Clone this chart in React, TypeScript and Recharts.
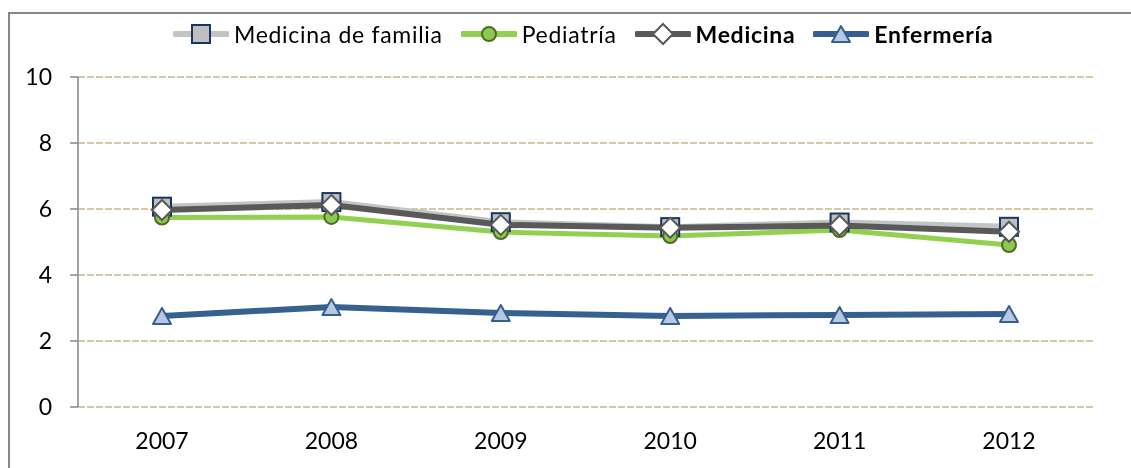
import { CartesianGrid, Line, LineChart, XAxis, YAxis } from 'recharts'

const years = ['2007', '2008', '2009', '2010', '2011', '2012']
const medicinaFamilia = [6.07, 6.21, 5.6, 5.45, 5.59, 5.46]
const pediatria = [5.74, 5.76, 5.3, 5.18, 5.36, 4.91]
const medicina = [5.97, 6.12, 5.52, 5.43, 5.5, 5.31]
const enfermeria = [2.76, 3.03, 2.85, 2.76, 2.79, 2.82]
const yTicks = [0, 2, 4, 6, 8, 10]

const data = years.map((year, i) => ({
  year,
  familia: medicinaFamilia[i],
  pediatria: pediatria[i],
  medicina: medicina[i],
  enfermeria: enfermeria[i],
}))

// band edges for the x tick marks (Excel puts them between categories)
const edgeTicks = [...years.map((_, i) => i), years.length]

const FONT = 'Lato, "Open Sans", sans-serif'
const AXIS = '#868686'

type DotProps = { cx?: number; cy?: number; index?: number }

const square = (p: DotProps) => (
  <rect
    key={`sq-${p.index}`}
    x={(p.cx ?? 0) - 9}
    y={(p.cy ?? 0) - 9}
    width={18}
    height={18}
    fill="#bfbfbf"
    stroke="#17375e"
    strokeWidth={2}
  />
)

const circle = (p: DotProps) => (
  <circle
    key={`ci-${p.index}`}
    cx={p.cx}
    cy={p.cy}
    r={7}
    fill="#8dc94e"
    stroke="#4f6b27"
    strokeWidth={2}
  />
)

const diamond = (p: DotProps) => {
  const x = p.cx ?? 0
  const y = p.cy ?? 0
  return (
    <path
      key={`di-${p.index}`}
      d={`M${x},${y - 10}L${x + 10},${y}L${x},${y + 10}L${x - 10},${y}Z`}
      fill="#ffffff"
      stroke="#595959"
      strokeWidth={2}
    />
  )
}

const triangle = (p: DotProps) => {
  const x = p.cx ?? 0
  const y = p.cy ?? 0
  return (
    <path
      key={`tr-${p.index}`}
      d={`M${x},${y - 8}L${x + 9},${y + 8}L${x - 9},${y + 8}Z`}
      fill="#b7c8e2"
      stroke="#365f91"
      strokeWidth={2}
      strokeLinejoin="round"
    />
  )
}

const legendItems = [
  { label: 'Medicina de familia', color: '#c4c4c4', marker: square, bold: false },
  { label: 'Pediatría', color: '#92d050', marker: circle, bold: false },
  { label: 'Medicina', color: '#595959', marker: diamond, bold: true },
  { label: 'Enfermería', color: '#376092', marker: triangle, bold: true },
]

function ChartLegend() {
  return (
    <div
      style={{
        position: 'absolute',
        left: 165,
        top: 12,
        display: 'flex',
        alignItems: 'center',
        gap: 18,
        fontFamily: FONT,
        fontSize: 23,
        letterSpacing: 0.7,
        color: '#000',
        whiteSpace: 'nowrap',
      }}
    >
      {legendItems.map((item) => (
        <div key={item.label} style={{ display: 'flex', alignItems: 'center', gap: 5 }}>
          <svg width={56} height={28}>
            <line x1={2} y1={14} x2={54} y2={14} stroke={item.color} strokeWidth={6} strokeLinecap="round" />
            {item.marker({ cx: 28, cy: 14, index: 0 })}
          </svg>
          <span style={{ fontWeight: item.bold ? 700 : 400 }}>{item.label}</span>
        </div>
      ))}
    </div>
  )
}

export default function App() {
  return (
    <div
      style={{
        position: 'fixed',
        left: 8,
        top: 8,
        width: 1123,
        height: 460,
        overflow: 'hidden',
      }}
    >
      <div
        style={{
          position: 'absolute',
          left: 0,
          top: 4,
          width: 1123,
          height: 456,
          boxSizing: 'border-box',
          borderTop: `2px solid ${AXIS}`,
          borderLeft: `2px solid ${AXIS}`,
        }}
      />
      <ChartLegend />
      <div style={{ position: 'absolute', left: 0, top: 0 }}>
        <LineChart
          width={1123}
          height={452}
          data={data}
          margin={{ top: 69, right: 38, left: 0, bottom: 0 }}
        >
          <CartesianGrid
            vertical={false}
            stroke="#c3b88a"
            strokeWidth={1.5}
            strokeDasharray="7 2"
          />
          <XAxis
            xAxisId="edges"
            type="number"
            domain={[0, years.length]}
            ticks={edgeTicks}
            height={0}
            tick={false}
            tickSize={7}
            tickLine={{ stroke: AXIS, strokeWidth: 1.5 }}
            axisLine={{ stroke: AXIS, strokeWidth: 1.5 }}
          />
          <XAxis
            dataKey="year"
            height={53}
            padding={{ left: 84, right: 84 }}
            tickLine={false}
            axisLine={false}
            tickSize={0}
            tickMargin={26}
            tick={{ fill: '#000', fontSize: 23, fontFamily: FONT }}
          />
          <YAxis
            domain={[0, 10]}
            ticks={yTicks}
            width={70}
            tickSize={8}
            tickMargin={18}
            tickLine={{ stroke: AXIS, strokeWidth: 1.5 }}
            axisLine={{ stroke: AXIS, strokeWidth: 1.5 }}
            tick={{ fill: '#000', fontSize: 23, fontFamily: FONT }}
          />
          <Line
            dataKey="familia"
            stroke="#c4c4c4"
            strokeWidth={6}
            dot={square}
            activeDot={false}
            isAnimationActive={false}
          />
          <Line
            dataKey="pediatria"
            stroke="#92d050"
            strokeWidth={5}
            dot={circle}
            activeDot={false}
            isAnimationActive={false}
          />
          <Line
            dataKey="medicina"
            stroke="#595959"
            strokeWidth={6}
            dot={diamond}
            activeDot={false}
            isAnimationActive={false}
          />
          <Line
            dataKey="enfermeria"
            stroke="#376092"
            strokeWidth={6}
            dot={triangle}
            activeDot={false}
            isAnimationActive={false}
          />
        </LineChart>
      </div>
    </div>
  )
}
